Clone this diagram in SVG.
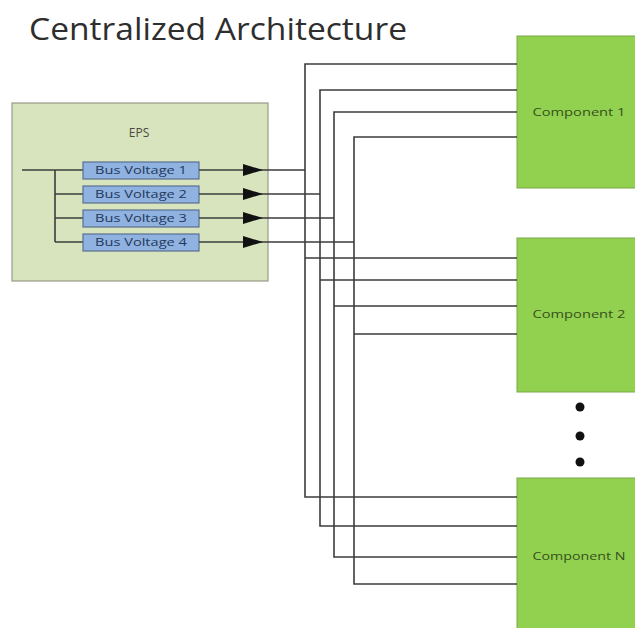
<svg xmlns="http://www.w3.org/2000/svg" width="635" height="628" viewBox="0 0 635 628">
  <defs>
    <marker id="arrow" viewBox="0 0 20 12" refX="20" refY="6" markerWidth="20" markerHeight="12" markerUnits="userSpaceOnUse" orient="auto">
      <path d="M0,0 L20,6 L0,12 z" fill="#111"/>
    </marker>
    <style>
      .wire { fill: none; stroke: #3c3c3c; stroke-width: 1.6; }
      .bus { fill: #8fb2e0; stroke: #5a7090; stroke-width: 1.2; }
      .bus-label { font-family: "Open Sans", "Liberation Sans", sans-serif; font-size: 10px; fill: #24385a; }
      .comp { fill: #92d050; stroke: #7aa848; stroke-width: 1; }
      .comp-label { font-family: "Open Sans", "Liberation Sans", sans-serif; font-size: 10px; fill: #35501c; text-anchor: middle; }
      .dot { fill: #111; }
    </style>
  </defs>

  <rect width="635" height="628" fill="#ffffff"/>

  <text x="29" y="40" font-family="Open Sans, Liberation Sans, sans-serif" font-size="31" fill="#2e2e2e" textLength="378" lengthAdjust="spacingAndGlyphs">Centralized Architecture</text>

  <!-- power system block with its four regulated buses -->
  <g id="eps">
    <rect x="12" y="103" width="256" height="178" fill="#d7e4bd" stroke="#9a9a8a" stroke-width="1.2"/>
    <text x="139" y="137" font-family="Open Sans, Liberation Sans, sans-serif" font-size="12" fill="#4a4a40" text-anchor="middle">EPS</text>
    <path class="wire" d="M22,170 H83 M55,170 V242 M55,194 H83 M55,218 H83 M55,242 H83"/>
  </g>
  <g id="bus1">
    <rect class="bus" x="83" y="162" width="116" height="17"/>
    <text class="bus-label" x="95" y="174" textLength="92" lengthAdjust="spacingAndGlyphs">Bus Voltage 1</text>
  </g>
  <g id="bus2">
    <rect class="bus" x="83" y="186" width="116" height="17"/>
    <text class="bus-label" x="95" y="198" textLength="92" lengthAdjust="spacingAndGlyphs">Bus Voltage 2</text>
  </g>
  <g id="bus3">
    <rect class="bus" x="83" y="210" width="116" height="17"/>
    <text class="bus-label" x="95" y="222" textLength="92" lengthAdjust="spacingAndGlyphs">Bus Voltage 3</text>
  </g>
  <g id="bus4">
    <rect class="bus" x="83" y="234" width="116" height="17"/>
    <text class="bus-label" x="95" y="246" textLength="92" lengthAdjust="spacingAndGlyphs">Bus Voltage 4</text>
  </g>

  <!-- loads -->
  <g id="component1">
    <rect class="comp" x="517" y="36" width="125" height="152"/>
    <text class="comp-label" x="579" y="116" textLength="93" lengthAdjust="spacingAndGlyphs">Component 1</text>
  </g>
  <g id="component2">
    <rect class="comp" x="517" y="238" width="125" height="154"/>
    <text class="comp-label" x="579" y="318" textLength="93" lengthAdjust="spacingAndGlyphs">Component 2</text>
  </g>
  <g id="componentN">
    <rect class="comp" x="517" y="478" width="125" height="160"/>
    <text class="comp-label" x="579" y="560" textLength="93" lengthAdjust="spacingAndGlyphs">Component N</text>
  </g>

  <g id="ellipsis">
    <circle class="dot" cx="580" cy="407" r="4.5"/>
    <circle class="dot" cx="580" cy="436" r="4.5"/>
    <circle class="dot" cx="580" cy="462" r="4.5"/>
  </g>

  <!-- distribution wiring -->
  <g id="connectors">
    <path class="wire" d="M199,170 H263" marker-end="url(#arrow)"/>
    <path class="wire" d="M199,194 H263" marker-end="url(#arrow)"/>
    <path class="wire" d="M199,218 H263" marker-end="url(#arrow)"/>
    <path class="wire" d="M199,242 H263" marker-end="url(#arrow)"/>
    <path class="wire" d="M263,170 H305 M263,194 H320 M263,218 H334 M263,242 H354"/>

    <path class="wire" d="M517,64 H305 V497 H517"/>
    <path class="wire" d="M517,90 H320 V526 H517"/>
    <path class="wire" d="M517,112 H334 V557 H517"/>
    <path class="wire" d="M517,137 H354 V584 H517"/>

    <path class="wire" d="M305,258 H517 M320,280 H517 M334,306 H517 M354,334 H517"/>
  </g>
</svg>
